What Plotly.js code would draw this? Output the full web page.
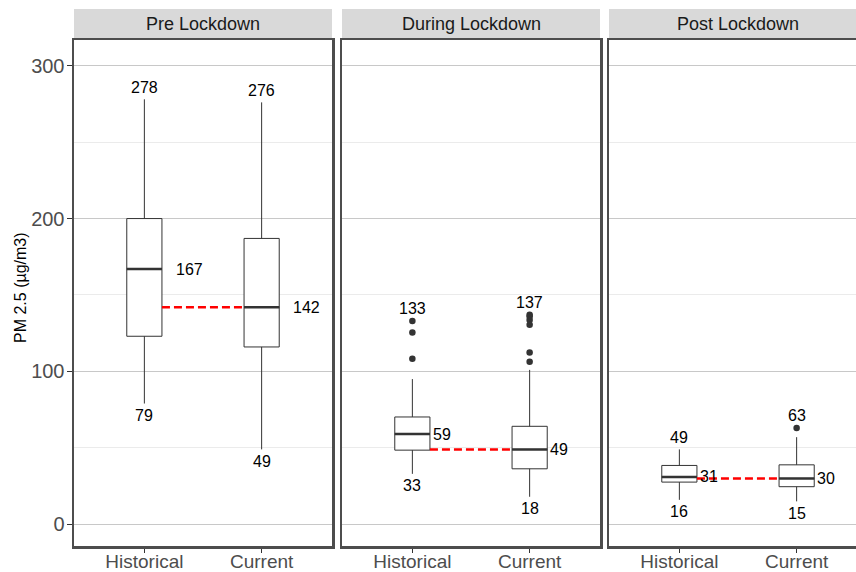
<!DOCTYPE html>
<html>
<head>
<meta charset="utf-8">
<script src="https://cdn.plot.ly/plotly-3.0.1.min.js"></script>
<style>
html,body{margin:0;padding:0;overflow:hidden;background:#fff;}
#chart{width:867px;height:572px;}
</style>
</head>
<body>
<div id="chart"></div>
<script>
// ---- data ----
const panels = ["Pre Lockdown", "During Lockdown", "Post Lockdown"];
const groups = ["Historical", "Current"];
const q1Vals     = [[123, 116], [48.5, 36.3], [27.6, 24.6]];
const medianVals = [[167, 142], [59, 49], [31, 30]];
const q3Vals     = [[200, 187], [70.2, 64.1], [38.5, 38.9]];
const lowerVals  = [[79, 49], [33, 18], [16, 15]];
const upperVals  = [[278, 276], [95, 101], [49, 57]];
const outliersHist = [[], [133, 125.4, 108.3], []];
const outliersCurr = [[], [137, 135.9, 133.7, 130.5, 112.4, 106.3], [63]];
const topLabels    = [[278, 276], [133, 137], [49, 63]];
const bottomLabels = [[79, 49], [33, 18], [16, 15]];
const medianLabels = [[167, 142], [59, 49], [31, 30]];
const yTicks = [0, 100, 200, 300];

// ---- layout helpers ----
const W = 867, H = 572;
const domains = [[74/W, 332/W], [342/W, 600/W], [609/W, 1]];
const yDom = [26/H, 532/H];
const medOffset = [0.385, 0.25, 0.25];
const font = "Liberation Sans, Arial, sans-serif";
const dark = "#333333";

const traces = [];
const annotations = [];
const shapes = [];
const layout = {
  width: W, height: H,
  margin: {l: 0, r: 0, t: 0, b: 0},
  paper_bgcolor: "#fff", plot_bgcolor: "#fff",
  showlegend: false,
  font: {family: font},
  annotations: annotations,
  shapes: shapes
};

panels.forEach((p, i) => {
  const xs = i === 0 ? "x" : "x" + (i + 1);
  const ys = i === 0 ? "y" : "y" + (i + 1);
  const xk = i === 0 ? "xaxis" : "xaxis" + (i + 1);
  const yk = i === 0 ? "yaxis" : "yaxis" + (i + 1);

  layout[xk] = {
    domain: domains[i], anchor: ys, range: [0.4, 2.6],
    tickvals: [1, 2], ticktext: groups,
    ticks: "outside", ticklen: 4, tickcolor: dark, tickwidth: 1,
    ticklabelstandoff: -7,
    tickfont: {size: 19, color: "#4d4d4d", family: font},
    showgrid: false, zeroline: false,
    showline: true, mirror: true, linecolor: "#4d4d4d", linewidth: 2.5,
    fixedrange: true
  };
  layout[yk] = {
    domain: yDom, anchor: xs, range: [-14.2, 316.8],
    tickvals: yTicks,
    showticklabels: i === 0,
    ticks: i === 0 ? "outside" : "", ticklen: 5, tickcolor: dark, tickwidth: 1,
    ticklabelstandoff: -2,
    tickfont: {size: 20, color: "#4d4d4d", family: font},
    showgrid: true, gridcolor: "#c8c8c8", gridwidth: 1,
    minor: {dtick: 50, tick0: 0, showgrid: true, gridcolor: "#ebebeb", gridwidth: 1, ticks: ""},
    zeroline: false,
    showline: true, mirror: true, linecolor: "#4d4d4d", linewidth: 2.5,
    fixedrange: true
  };
  if (i > 0) layout[yk].matches = "y";

  // boxes
  traces.push({
    type: "box", xaxis: xs, yaxis: ys,
    x: [1, 2],
    q1: q1Vals[i], median: medianVals[i], q3: q3Vals[i],
    lowerfence: lowerVals[i], upperfence: upperVals[i],
    width: 0.3, whiskerwidth: 0, boxpoints: false,
    fillcolor: "#ffffff", line: {color: dark, width: 1},
    hoverinfo: "skip"
  });
  // thicker median line
  const m = medianVals[i];
  traces.push({
    type: "scatter", mode: "lines", xaxis: xs, yaxis: ys,
    x: [0.85, 1.15, null, 1.85, 2.15], y: [m[0], m[0], null, m[1], m[1]],
    line: {color: dark, width: 2.5}, hoverinfo: "skip"
  });
  // red dashed reference line at current median
  traces.push({
    type: "scatter", mode: "lines", xaxis: xs, yaxis: ys,
    x: [1.15, 1.85], y: [m[1], m[1]],
    line: {color: "#ff0000", width: 2.5, dash: "8px,4px"}, hoverinfo: "skip"
  });
  // outliers
  const ox = outliersHist[i].map(() => 1).concat(outliersCurr[i].map(() => 2));
  const oy = outliersHist[i].concat(outliersCurr[i]);
  if (oy.length) {
    traces.push({
      type: "scatter", mode: "markers", xaxis: xs, yaxis: ys,
      x: ox, y: oy, marker: {color: dark, size: 6.5}, hoverinfo: "skip"
    });
  }
  // labels
  for (let g = 0; g < 2; g++) {
    const base = {xref: xs, yref: ys, showarrow: false, xanchor: "center", yanchor: "middle",
      font: {size: 16, color: "#000", family: font}};
    annotations.push(Object.assign({}, base, {x: g + 1, y: topLabels[i][g], text: String(topLabels[i][g]), yshift: 12}));
    annotations.push(Object.assign({}, base, {x: g + 1, y: bottomLabels[i][g], text: String(bottomLabels[i][g]), yshift: -12}));
    annotations.push(Object.assign({}, base, {x: g + 1 + medOffset[i], y: medianLabels[i][g], text: String(medianLabels[i][g])}));
  }
  // strip
  shapes.push({type: "rect", xref: xs + " domain", yref: "paper",
    x0: 0, x1: 1, y0: 533/H, y1: (H - 9)/H,
    fillcolor: "#d9d9d9", line: {width: 0}, layer: "below"});
  annotations.push({xref: xs + " domain", yref: "paper", x: 0.5, y: (H - 24.5)/H,
    xanchor: "center", yanchor: "middle",
    text: p, showarrow: false, font: {size: 18, color: "#1a1a1a", family: font}});
});

annotations.push({xref: "paper", yref: "paper", x: 20/W, y: (H - 288)/H,
  xanchor: "center", yanchor: "middle",
  text: "PM 2.5 (µg/m3)", textangle: -90, showarrow: false,
  font: {size: 16, color: "#000", family: font}});

Plotly.newPlot("chart", traces, layout, {displayModeBar: false, staticPlot: true});
</script>
</body>
</html>
